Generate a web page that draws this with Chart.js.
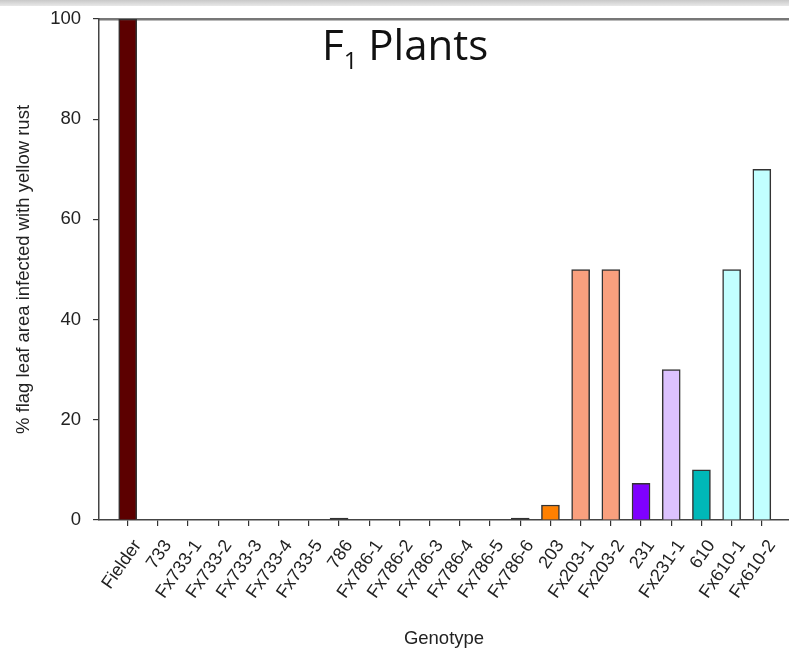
<!DOCTYPE html>
<html>
<head>
<meta charset="utf-8">
<script src="https://cdn.jsdelivr.net/npm/chart.js@4/dist/chart.umd.min.js"></script>
<style>
  html, body { margin: 0; padding: 0; background: #fff; }
  #wrap { position: relative; width: 789px; height: 650px; overflow: hidden; }
  #band { position: absolute; left: 0; top: 0; width: 789px; height: 6px;
          background: linear-gradient(#c8c8c8, #e8e8e8); }
  #title { position: absolute; left: 322px; top: 23px; font-family: "Open Sans", sans-serif;
           font-size: 42px; line-height: 1; color: #111; white-space: nowrap; }
  #title sub { font-size: 24px; vertical-align: -9px; line-height: 0; }
  canvas { position: absolute; left: 0; top: 0; }
</style>
</head>
<body>
<div id="wrap">
  <div id="band"></div>
  <canvas id="c" width="789" height="650"></canvas>
  <div id="title">F<sub>1</sub> Plants</div>
</div>
<script>
const categories = ["Fielder","733","Fx733-1","Fx733-2","Fx733-3","Fx733-4","Fx733-5","786",
  "Fx786-1","Fx786-2","Fx786-3","Fx786-4","Fx786-5","Fx786-6","203","Fx203-1","Fx203-2",
  "231","Fx231-1","610","Fx610-1","Fx610-2"];
const values = [100,0,0,0,0,0,0,0.4,0,0,0,0,0,0.4,3,50,50,7.3,30,10,50,70];
const fillColors = ["#5c0000","#ffffff","#ffffff","#ffffff","#ffffff","#ffffff","#ffffff","#333333",
  "#ffffff","#ffffff","#ffffff","#ffffff","#ffffff","#333333","#ff8000","#f9a07e","#f9a07e",
  "#7f00ff","#dcc2ff","#00b8b8","#c2ffff","#c2ffff"];
const yTicks = [0,20,40,60,80,100];
const yTitle = "% flag leaf area infected with yellow rust";
const xTitle = "Genotype";

const points = categories.map((c, i) => ({ x: i, y: values[i] }));
const fam = "'Liberation Sans', Arial, sans-serif";

new Chart(document.getElementById('c'), {
  type: 'bar',
  data: {
    datasets: [{
      data: points,
      backgroundColor: fillColors,
      borderColor: "#333333",
      borderWidth: 1.5,
      borderSkipped: 'bottom',
      barThickness: 18,
      xAxisID: 'x',
      yAxisID: 'y'
    }]
  },
  options: {
    responsive: false,
    animation: false,
    layout: { padding: { top: 19, right: 0, left: 0, bottom: 0 } },
    plugins: { legend: { display: false }, tooltip: { enabled: false } },
    scales: {
      x: {
        type: 'linear',
        min: -0.95,
        max: 21.9,
        offset: false,
        afterBuildTicks: s => { s.ticks = categories.map((_, i) => ({ value: i })); },
        afterFit: s => { s.height = 130; s.paddingLeft = 0; s.paddingRight = 0; },
        ticks: {
          autoSkip: false,
          maxRotation: 55,
          minRotation: 55,
          padding: 10,
          labelOffset: 10,
          color: "#222",
          font: { family: fam, size: 18 },
          callback: v => categories[v]
        },
        grid: { offset: false, drawOnChartArea: false, drawTicks: true, tickLength: 6, color: "#333", lineWidth: 1.2 },
        border: { display: true, color: "#444", width: 1.5 },
        title: { display: true, text: xTitle, color: "#222", font: { family: fam, size: 18.5 }, padding: { top: 4, bottom: 0 } }
      },
      x2: {
        type: 'linear',
        position: 'top',
        min: 0, max: 1,
        afterBuildTicks: s => { s.ticks = []; },
        afterFit: s => { s.height = 0; s.paddingLeft = 0; s.paddingRight = 0; },
        ticks: { display: false },
        grid: { drawOnChartArea: false, drawTicks: false },
        border: { display: true, color: "#777", width: 2.5 }
      },
      y: {
        min: 0,
        max: 100,
        afterBuildTicks: s => { s.ticks = yTicks.map(v => ({ value: v })); },
        afterFit: s => { s.width = 99; s.paddingTop = 0; s.paddingBottom = 0; },
        ticks: { color: "#222", font: { family: fam, size: 18.5 }, padding: 12 },
        grid: { drawOnChartArea: false, drawTicks: true, tickLength: 6, color: "#333", lineWidth: 1.2 },
        border: { display: true, color: "#444", width: 1.5 },
        title: { display: true, text: yTitle, color: "#222", font: { family: fam, size: 18.5 }, padding: { top: 13, bottom: 4 } }
      }
    }
  }
});
</script>
</body>
</html>
